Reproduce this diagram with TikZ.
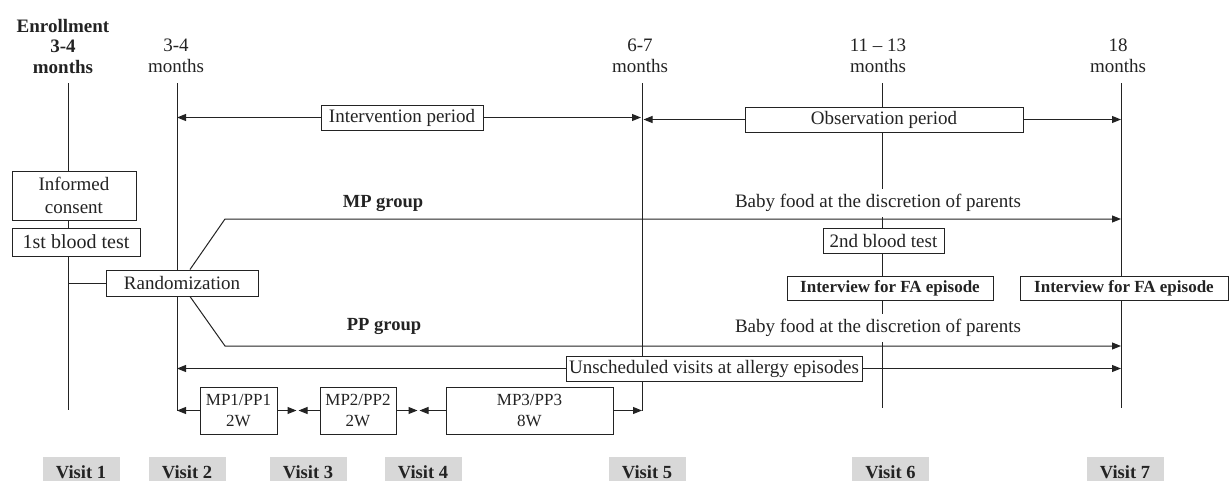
\documentclass[tikz,border=0pt]{standalone}
\usepackage{fontspec}
\setmainfont{Liberation Serif}
\usetikzlibrary{arrows.meta}
\definecolor{ink}{RGB}{35,35,35}
\definecolor{visitgray}{RGB}{216,216,216}
\tikzset{
  box/.style={draw=ink,fill=white,line width=1pt,inner sep=0pt,align=center,text=ink,
    font=\fontsize{19}{21}\selectfont},
  small/.style={font=\fontsize{17}{21}\selectfont},
  ibold/.style={font=\bfseries\fontsize{17}{20}\selectfont},
  hdr/.style={anchor=north,align=center,inner sep=1pt,text=ink,font=\fontsize{19}{20.5}\selectfont},
  grp/.style={text=ink,inner sep=1pt,font=\bfseries\fontsize{18.5}{20}\selectfont},
  food/.style={fill=white,inner xsep=2pt,inner ysep=5pt,text=ink,font=\fontsize{19}{21}\selectfont},
  visit/.style={fill=visitgray,minimum width=77pt,minimum height=30pt,inner sep=0pt,text=ink,
    font=\bfseries\fontsize{18.5}{20}\selectfont},
  tl/.style={draw=ink,line width=1pt},
  tip/.style={draw=ink,line width=1pt,-{Triangle[length=9pt,width=7pt]}}
}
\begin{document}
\begin{tikzpicture}[x=1pt,y=-1pt]
\useasboundingbox (0,0) rectangle (1229,480);
\coordinate (t1) at (68,83);   \coordinate (b1) at (68,410);
\coordinate (t2) at (177,83);  \coordinate (b2) at (177,411);
\coordinate (t5) at (642,83);  \coordinate (b5) at (642,411);
\coordinate (t6) at (882,83);  \coordinate (b6) at (882,408);
\coordinate (t7) at (1121,83); \coordinate (b7) at (1121,408);
\coordinate (v3) at (297.5,0); \coordinate (v4) at (418.5,0);
\coordinate (mpk) at (225,219); \coordinate (ppk) at (225,346);
\foreach \v in {1,2,5,6,7} \draw[tl] (t\v) -- (b\v);

\node[hdr,font=\bfseries\fontsize{19}{20.5}\selectfont] (h1) at (63,18) {Enrollment\\3-4\\months};
\node[hdr] (h2) at (176,38) {3-4\\months};
\node[hdr] (h5) at (640,38) {6-7\\months};
\node[hdr] (h6) at (878,38) {11 – 13\\months};
\node[hdr] (h7) at (1118,38) {18\\months};

\node[box,minimum width=124pt,minimum height=49pt,font=\fontsize{19}{23}\selectfont] (ic) at (74,195.5) {Informed\\consent};
\node[box,minimum width=128pt,minimum height=28pt,font=\fontsize{20}{22}\selectfont] (bt1) at (76,242) {1st blood test};
\node[box,minimum width=152pt,minimum height=26pt] (rand) at (182,283) {Randomization};
\node[box,minimum width=162pt,minimum height=25pt] (ip) at (402,117.5) {Intervention period};
\node[box,minimum width=278pt,minimum height=25pt] (op) at (884,119.5) {Observation period};
\node[box,minimum width=121pt,minimum height=25pt] (bt2) at (883.5,240.5) {2nd blood test};
\node[box,ibold,minimum width=206pt,minimum height=24pt] (iv6) at (890,288) {Interview for FA episode};
\node[box,ibold,minimum width=208pt,minimum height=24pt] (iv7) at (1124,288) {Interview for FA episode};
\node[box,minimum width=296pt,minimum height=25pt] (us) at (714,368.5) {Unscheduled visits at allergy episodes};
\node[box,small,minimum width=77pt,minimum height=47pt] (mp1) at (238.5,410.5) {MP1/PP1\\2W};
\node[box,small,minimum width=76pt,minimum height=47pt] (mp2) at (358,410.5) {MP2/PP2\\2W};
\node[box,small,minimum width=167pt,minimum height=47pt] (mp3) at (529.5,410.5) {MP3/PP3\\8W};

\node[grp] (mpg) at (383,203) {MP group};
\node[grp] (ppg) at (384,326) {PP group};
\node[food] (food1) at (878,203) {Baby food at the discretion of parents};
\node[food] (food2) at (878,328) {Baby food at the discretion of parents};

\draw[tip] (ip.west) -- (ip.west -| t2);
\draw[tip,shorten >=1pt] (ip.east) -- (ip.east -| t5);
\draw[tip,shorten >=1.5pt] (op.west) -- (op.west -| t5);
\draw[tip] (op.east) -- (op.east -| t7);
\draw[tl] (rand.west) -- (rand.west -| t1);
\draw[tip] ([xshift=8pt]rand.north) -- (mpk) -- (mpk -| t7);
\draw[tip] ([xshift=8pt]rand.south) -- (ppk) -- (ppk -| t7);
\draw[tip] (us.west) -- (us.west -| t2);
\draw[tip] (us.east) -- (us.east -| t7);
\draw[tip] (mp1.west) -- (mp1.west -| t2);
\draw[tip,shorten >=1pt] (mp1.east) -- (mp1.east -| v3);
\draw[tip,shorten >=1pt] (mp2.west) -- (mp2.west -| v3);
\draw[tip,shorten >=1pt] (mp2.east) -- (mp2.east -| v4);
\draw[tip,shorten >=1pt] (mp3.west) -- (mp3.west -| v4);
\draw[tip] (mp3.east) -- (mp3.east -| t5);

\node[visit] (vis1) at (81,472) {Visit 1};
\node[visit] (vis2) at (187,472) {Visit 2};
\node[visit] (vis3) at (308,472) {Visit 3};
\node[visit] (vis4) at (423,472) {Visit 4};
\node[visit] (vis5) at (647,472) {Visit 5};
\node[visit] (vis6) at (890.5,472) {Visit 6};
\node[visit] (vis7) at (1125,472) {Visit 7};
\end{tikzpicture}
\end{document}
